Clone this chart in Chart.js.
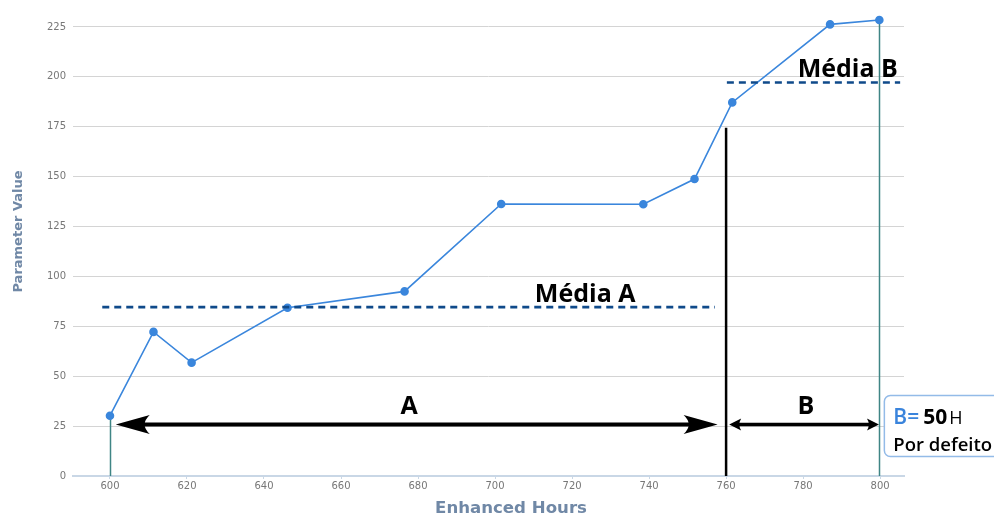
<!DOCTYPE html>
<html>
<head>
<meta charset="utf-8">
<script src="https://cdn.jsdelivr.net/npm/chart.js@4/dist/chart.umd.min.js"></script>
<style>
  body { margin: 0; background: #fff; }
  #wrap { width: 994px; height: 514px; }
</style>
</head>
<body>
<div id="wrap"><canvas id="hoursChart" width="994" height="514"></canvas></div>
<script>
// measured points
const hours = [600, 611.3, 621.2, 646.1, 676.5, 701.6, 738.5, 751.8, 761.6, 787, 799.8];
const values = [30.2, 72.2, 56.8, 84.3, 92.5, 136.3, 136.2, 148.8, 187.2, 226.3, 228.5];

// averages (dashed lines)
const mediaLabels = ['Média A', 'Média B'];
const mediaValues = [84.6, 197.2];
const mediaStart = [598, 760.2];
const mediaEnd = [757.1, 805.2];
const mediaLabelAt = [723.4, 791.6];

// A / B spans (arrows)
const spanLabels = ['A', 'B'];
const spanStart = [601.5, 760.8];
const spanEnd = [757.8, 799.7];
const spanLabelAt = [677.7, 780.7];
const spanLevel = 26;

const splitHour = 760;
const splitTop = 174.5;

const boxLines = ['B=', '50', 'H', 'Por defeito'];

const titleColor = '#7088a6';
const canvas = document.getElementById('hoursChart');

function arrowHead(ctx, tipX, y, dir, len, half) {
  ctx.beginPath();
  ctx.moveTo(tipX, y);
  ctx.lineTo(tipX + dir * len, y - half);
  ctx.quadraticCurveTo(tipX + dir * len * 0.7, y, tipX + dir * len, y + half);
  ctx.closePath();
  ctx.fill();
}

function drawSpan(ctx, x1, x2, y, lw, len, half) {
  ctx.save();
  ctx.strokeStyle = '#000';
  ctx.fillStyle = '#000';
  ctx.lineWidth = lw;
  ctx.beginPath();
  ctx.moveTo(x1 + len * 0.6, y);
  ctx.lineTo(x2 - len * 0.6, y);
  ctx.stroke();
  arrowHead(ctx, x1, y, 1, len, half);
  arrowHead(ctx, x2, y, -1, len, half);
  ctx.restore();
}

const guides = {
  id: 'guides',
  beforeDatasetsDraw(chart) {
    const ctx = chart.ctx;
    const xs = chart.scales.x, ys = chart.scales.y;
    ctx.save();
    // teal verticals at first/last reading
    ctx.strokeStyle = '#3f8585';
    ctx.lineWidth = 1.5;
    [0, hours.length - 1].forEach(i => {
      const px = Math.round(xs.getPixelForValue(hours[i])) + 0.5;
      ctx.beginPath();
      ctx.moveTo(px, ys.getPixelForValue(0));
      ctx.lineTo(px, ys.getPixelForValue(values[i]));
      ctx.stroke();
    });
    // split line
    ctx.strokeStyle = '#000';
    ctx.lineWidth = 2.5;
    const sx = xs.getPixelForValue(splitHour);
    ctx.beginPath();
    ctx.moveTo(sx, ys.getPixelForValue(0));
    ctx.lineTo(sx, ys.getPixelForValue(splitTop));
    ctx.stroke();
    ctx.restore();
  },
  afterDatasetsDraw(chart) {
    const ctx = chart.ctx;
    const xs = chart.scales.x, ys = chart.scales.y;
    ctx.save();

    // media lines + labels
    mediaValues.forEach((v, i) => {
      const py = ys.getPixelForValue(v);
      ctx.strokeStyle = '#0f4a8a';
      ctx.lineWidth = 2.6;
      ctx.setLineDash([7, 5]);
      ctx.beginPath();
      ctx.moveTo(xs.getPixelForValue(mediaStart[i]), py);
      ctx.lineTo(xs.getPixelForValue(mediaEnd[i]), py);
      ctx.stroke();
      ctx.setLineDash([]);
      ctx.fillStyle = '#000';
      ctx.font = 'bold 25px "Open Sans"';
      ctx.textAlign = 'center';
      ctx.textBaseline = 'alphabetic';
      ctx.fillText(mediaLabels[i], xs.getPixelForValue(mediaLabelAt[i]), py - 5);
    });

    // span arrows
    const ay = Math.round(ys.getPixelForValue(spanLevel)) + 0.5;
    drawSpan(ctx, xs.getPixelForValue(spanStart[0]), xs.getPixelForValue(spanEnd[0]), ay, 4, 34, 9.5);
    drawSpan(ctx, xs.getPixelForValue(spanStart[1]), xs.getPixelForValue(spanEnd[1]), ay, 3.5, 12, 6);
    ctx.fillStyle = '#000';
    ctx.font = 'bold 25px "Open Sans"';
    ctx.textAlign = 'center';
    spanLabels.forEach((t, i) => {
      ctx.fillText(t, xs.getPixelForValue(spanLabelAt[i]), ay - 11);
    });

    // note box
    const bx = xs.getPixelForValue(hours[hours.length - 1]) + 5;
    const by = ay - 29;
    ctx.fillStyle = '#fff';
    ctx.strokeStyle = '#93bbe8';
    ctx.lineWidth = 1.5;
    ctx.beginPath();
    ctx.roundRect(bx, by, 130, 61, 6);
    ctx.fill();
    ctx.stroke();
    ctx.textAlign = 'left';
    let tx = bx + 9;
    ctx.font = '600 21px "Open Sans"';
    ctx.fillStyle = '#3a84dc';
    ctx.fillText(boxLines[0], tx, by + 28);
    tx += ctx.measureText(boxLines[0]).width + 4;
    ctx.fillStyle = '#000';
    ctx.font = 'bold 21px "Open Sans"';
    ctx.fillText(boxLines[1], tx, by + 28);
    tx += ctx.measureText(boxLines[1]).width + 2;
    ctx.font = '18px "Open Sans"';
    ctx.fillText(boxLines[2], tx, by + 28);
    ctx.font = '600 18.5px "Open Sans"';
    ctx.fillText(boxLines[3], bx + 9, by + 55);

    // axis titles
    ctx.fillStyle = titleColor;
    ctx.font = 'bold 16.6px "DejaVu Sans"';
    ctx.textAlign = 'center';
    ctx.fillText('Enhanced Hours', 511, 513);
    ctx.translate(22, 231.5);
    ctx.rotate(-Math.PI / 2);
    ctx.font = 'bold 13px "DejaVu Sans"';
    ctx.fillText('Parameter Value', 0, 0);
    ctx.restore();
  }
};

new Chart(canvas, {
  type: 'line',
  data: {
    datasets: [{
      label: 'Parameter Value',
      data: hours.map((h, i) => ({ x: h, y: values[i] })),
      borderColor: '#3a86dc',
      backgroundColor: '#3a86dc',
      borderWidth: 1.6,
      pointRadius: 3.5,
      pointHoverRadius: 3.5,
      tension: 0
    }]
  },
  options: {
    responsive: false,
    animation: false,
    devicePixelRatio: 1,
    layout: { padding: { left: 0, right: 90, top: 12, bottom: 0 } },
    plugins: { legend: { display: false }, tooltip: { enabled: false } },
    scales: {
      x: {
        type: 'linear',
        min: 590.4,
        max: 806.2,
        afterFit: s => { s.height = 38; },
        ticks: { stepSize: 20, includeBounds: false, color: '#777', padding: 1, font: { family: 'DejaVu Sans', size: 10 } },
        grid: { drawOnChartArea: false, color: '#c9d7e6', tickLength: 3 },
        border: { color: '#c9d7e6', width: 2 }
      },
      y: {
        min: 0,
        max: 232,
        afterFit: s => { s.width = 73; },
        ticks: { stepSize: 25, includeBounds: false, color: '#777', padding: 7, font: { family: 'DejaVu Sans', size: 10 } },
        grid: { color: '#d4d4d4', drawTicks: false },
        border: { display: false }
      }
    }
  },
  plugins: [guides]
});
</script>
</body>
</html>
